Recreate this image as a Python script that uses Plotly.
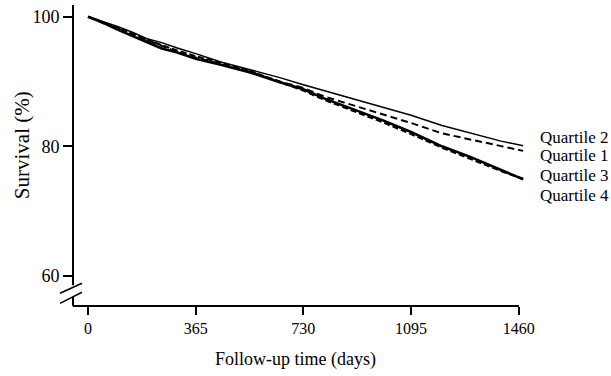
import plotly.graph_objects as go

days = [0, 50, 100, 150, 200, 250, 300, 365, 450, 550, 650, 730, 800, 900, 1000, 1095, 1200, 1300, 1400, 1475]
q2 = [100, 99.3, 98.5, 97.6, 96.6, 96.0, 95.2, 94.3, 93.0, 91.8, 90.6, 89.5, 88.6, 87.4, 86.0, 84.8, 83.2, 82.0, 80.8, 80.1]
q1 = [100, 99.0, 98.2, 97.3, 96.3, 95.4, 94.6, 93.7, 92.7, 91.5, 90.0, 89.0, 87.7, 86.3, 84.9, 83.6, 82.0, 81.0, 80.0, 79.3]
q3 = [100, 99.1, 98.0, 97.0, 96.1, 95.1, 94.5, 93.5, 92.6, 91.4, 89.9, 88.8, 87.4, 85.7, 84.0, 82.2, 80.0, 78.3, 76.4, 74.9]
q4 = [100, 99.2, 98.3, 97.4, 96.4, 95.6, 94.8, 93.9, 92.9, 91.6, 90.0, 88.6, 87.2, 85.5, 83.7, 81.9, 79.8, 78.0, 76.2, 75.0]

labels = ["Quartile 2", "Quartile 1", "Quartile 3", "Quartile 4"]
label_y = [137, 155, 175, 195]  # pixel rows of the end labels

x_ticks = [0, 365, 730, 1095, 1460]
y_ticks = [60, 80, 100]

FONT = "Liberation Serif, Times New Roman, serif"
W, H = 611, 376
L, R, T, B = 73, 524.4, 5, 305.7

fig = go.Figure()
styles = [
    (q2, dict(color="black", width=1.5, dash="solid")),
    (q1, dict(color="black", width=2.0, dash="7px,4px")),
    (q3, dict(color="black", width=2.6, dash="solid")),
    (q4, dict(color="black", width=2.2, dash="6px,3px")),
]
for (vals, ln), name in zip(styles, labels):
    fig.add_trace(go.Scatter(x=days, y=vals, mode="lines", line=ln, name=name,
                             showlegend=False, hoverinfo="skip"))

def px2paper_x(px):
    return (px - L) / (R - L)

def px2paper_y(py):
    return (B - py) / (B - T)

shapes = []
shapes.append(dict(type="line", xref="paper", yref="paper", x0=0, x1=px2paper_x(519.3),
                   y0=0, y1=0, line=dict(color="black", width=2)))
shapes.append(dict(type="line", xref="paper", yref="paper", x0=0, x1=0,
                   y0=px2paper_y(285), y1=1, line=dict(color="black", width=2)))
shapes.append(dict(type="line", xref="paper", yref="paper", x0=0, x1=0,
                   y0=0, y1=px2paper_y(296), line=dict(color="black", width=2)))
for (xa, ya, xb, yb) in [(60, 293, 82, 283), (60, 303, 82, 292)]:
    shapes.append(dict(type="line", xref="paper", yref="paper",
                       x0=px2paper_x(xa), y0=px2paper_y(ya), x1=px2paper_x(xb), y1=px2paper_y(yb),
                       line=dict(color="black", width=1.5)))

annotations = []
for lab, py in zip(labels, label_y):
    annotations.append(dict(text=lab, xref="paper", yref="paper", x=px2paper_x(538), y=px2paper_y(py),
                            xanchor="left", yanchor="middle", showarrow=False,
                            font=dict(family=FONT, size=17, color="black")))
annotations.append(dict(text="Follow-up time (days)", xref="paper", yref="paper",
                        x=px2paper_x(296), y=px2paper_y(359), xanchor="center", yanchor="middle",
                        showarrow=False, font=dict(family=FONT, size=18, color="black")))
annotations.append(dict(text="Survival (%)", xref="paper", yref="paper", textangle=-90,
                        x=px2paper_x(22), y=px2paper_y(145), xanchor="center", yanchor="middle",
                        showarrow=False, font=dict(family=FONT, size=21, color="black")))

fig.update_layout(
    width=W, height=H,
    margin=dict(l=L, r=W - R, t=T, b=H - B),
    paper_bgcolor="white", plot_bgcolor="white",
    shapes=shapes, annotations=annotations,
    xaxis=dict(range=[-51, 1478], tickvals=x_ticks, ticktext=[str(v) for v in x_ticks],
               ticks="outside", ticklen=8, tickwidth=2, tickcolor="black",
               showline=False, showgrid=False, zeroline=False,
               tickfont=dict(family=FONT, size=16, color="black")),
    yaxis=dict(range=[55.37, 101.8], tickvals=y_ticks, ticktext=[str(v) for v in y_ticks],
               ticks="outside", ticklen=9, tickwidth=2, tickcolor="black",
               showline=False, showgrid=False, zeroline=False,
               tickfont=dict(family=FONT, size=18, color="black")),
)

fig.write_html("out.html", config={"displayModeBar": False, "staticPlot": True})

# remove default page margin so the figure sits at the window's top-left corner
with open("out.html", "r", encoding="utf-8") as f:
    html = f.read()
html = html.replace("<head>", "<head><style>html,body{margin:0;padding:0;overflow:hidden;}</style>", 1)
with open("out.html", "w", encoding="utf-8") as f:
    f.write(html)
